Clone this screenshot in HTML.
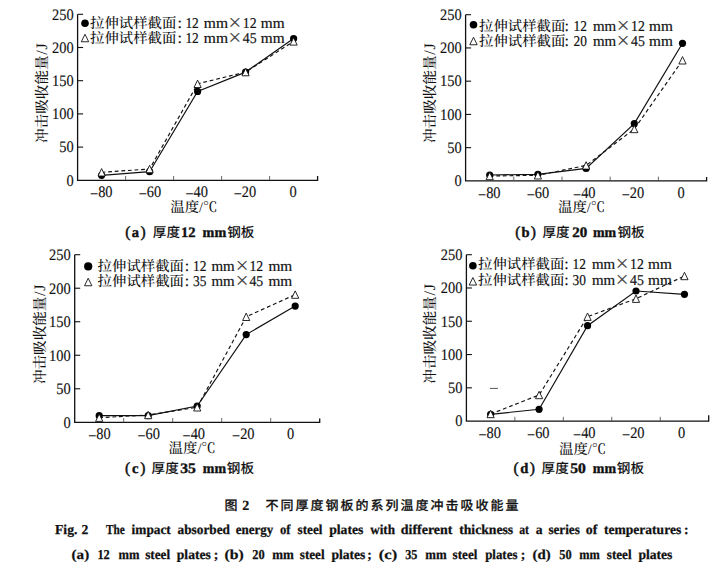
<!DOCTYPE html>
<html><head><meta charset="utf-8"><title>Fig.2</title><style>
html,body{margin:0;padding:0;background:#fff;}
svg{display:block;}
.ax{fill:none;stroke:#111;stroke-width:1.3;}
.tk{fill:none;stroke:#111;stroke-width:1.1;}
.tk2{fill:none;stroke:#444;stroke-width:0.8;}
.ls{fill:none;stroke:#111;stroke-width:1.2;}
.ld{fill:none;stroke:#111;stroke-width:1.15;stroke-dasharray:3.8 2.8;}
.sd{fill:none;stroke:#555;stroke-width:1;}
.mc{fill:#000;stroke:none;}
.mt{fill:#fff;stroke:#111;stroke-width:0.9;}
text{fill:#111;text-rendering:geometricPrecision;}
.n{font-family:"Liberation Serif",serif;font-size:16px;stroke:#111;stroke-width:0.15px;}
.n2{font-family:"Liberation Serif",serif;font-size:15px;stroke:#111;stroke-width:0.2px;}
.x{font-family:"Liberation Serif",serif;font-size:23px;fill:#444;}
.cj{font-family:"Liberation Serif","Noto Serif CJK SC",serif;font-size:14.4px;font-weight:500;}
.yl{font-size:14.6px;}
.yj{font-size:16px;letter-spacing:0.8px;}
.pp{font-weight:normal;font-size:15.5px;stroke-width:0.5px;}
.cb{font-family:"Liberation Serif",serif;font-size:14.5px;font-weight:bold;stroke:#111;stroke-width:0.4px;}
.cc{font-family:"Liberation Sans","Noto Sans CJK SC",sans-serif;font-size:13.6px;font-weight:500;}
.c1{font-family:"Liberation Sans","Noto Sans CJK SC",sans-serif;font-size:13px;font-weight:500;letter-spacing:2px;stroke:#111;stroke-width:0.2px;}
.c2b{font-family:"Liberation Serif",serif;font-size:14px;font-weight:bold;stroke:#111;stroke-width:0.2px;}
.c2{font-family:"Liberation Serif",serif;font-size:13.6px;font-weight:bold;stroke:#111;stroke-width:0.25px;}
</style></head>
<body><svg width="720" height="570" viewBox="0 0 720 570">
<rect width="720" height="570" fill="#fff"/>
<g><path d="M77.6,14.3 V180.3 H317.6 V175.9" class="ax"/>
<path d="M77.6,147.1 h5.5" class="tk"/>
<path d="M77.6,113.9 h5.5" class="tk"/>
<path d="M77.6,80.7 h5.5" class="tk"/>
<path d="M77.6,47.5 h5.5" class="tk"/>
<path d="M77.6,14.3 h5.5" class="tk"/>
<path d="M125.6,180.3 v-4.3" class="tk2"/>
<path d="M173.6,180.3 v-4.3" class="tk2"/>
<path d="M221.6,180.3 v-4.3" class="tk2"/>
<path d="M269.6,180.3 v-4.3" class="tk2"/>
<text x="73.6" y="185.6" class="n" text-anchor="end" textLength="7.2" lengthAdjust="spacingAndGlyphs">0</text>
<text x="73.6" y="152.4" class="n" text-anchor="end" textLength="14.4" lengthAdjust="spacingAndGlyphs">50</text>
<text x="73.6" y="119.2" class="n" text-anchor="end" textLength="21.6" lengthAdjust="spacingAndGlyphs">100</text>
<text x="73.6" y="86" class="n" text-anchor="end" textLength="21.6" lengthAdjust="spacingAndGlyphs">150</text>
<text x="73.6" y="52.8" class="n" text-anchor="end" textLength="21.6" lengthAdjust="spacingAndGlyphs">200</text>
<text x="73.6" y="19.6" class="n" text-anchor="end" textLength="21.6" lengthAdjust="spacingAndGlyphs">250</text>
<text x="101.3" y="197.3" class="n" text-anchor="middle" textLength="22.52" lengthAdjust="spacingAndGlyphs"><tspan dy="1.7">−</tspan><tspan dy="-1.7">80</tspan></text>
<text x="150" y="197.3" class="n" text-anchor="middle" textLength="22.52" lengthAdjust="spacingAndGlyphs"><tspan dy="1.7">−</tspan><tspan dy="-1.7">60</tspan></text>
<text x="196.7" y="197.3" class="n" text-anchor="middle" textLength="22.52" lengthAdjust="spacingAndGlyphs"><tspan dy="1.7">−</tspan><tspan dy="-1.7">40</tspan></text>
<text x="245" y="197.3" class="n" text-anchor="middle" textLength="22.52" lengthAdjust="spacingAndGlyphs"><tspan dy="1.7">−</tspan><tspan dy="-1.7">20</tspan></text>
<text x="293" y="197.3" class="n" text-anchor="middle" textLength="7.2" lengthAdjust="spacingAndGlyphs">0</text>
<polyline points="101.6,175.3 149.6,171.7 197.6,91.4 245.6,72.1 293.6,38.5" class="ls"/>
<polyline points="101.6,172.3 149.6,169 197.6,83.8 245.6,72.1 293.6,41.4" class="ld"/>
<circle cx="101.6" cy="175.3" r="3.6" class="mc"/>
<circle cx="149.6" cy="171.7" r="3.6" class="mc"/>
<circle cx="197.6" cy="91.4" r="3.6" class="mc"/>
<circle cx="245.6" cy="72.1" r="3.6" class="mc"/>
<circle cx="293.6" cy="38.5" r="3.6" class="mc"/>
<path d="M101.6,168.6 L105.2,176 L98,176 Z" class="mt"/>
<path d="M149.6,165.3 L153.2,172.7 L146,172.7 Z" class="mt"/>
<path d="M197.6,80.1 L201.2,87.5 L194,87.5 Z" class="mt"/>
<path d="M245.6,68.4 L249.2,75.8 L242,75.8 Z" class="mt"/>
<path d="M293.6,37.7 L297.2,45.1 L290,45.1 Z" class="mt"/>
<circle cx="85" cy="23.2" r="3.8" class="mc"/>
<path d="M85,34.25 L88.7,41.75 L81.3,41.75 Z" class="mt"/>
<text x="177.5" y="27.75" class="n">:</text>
<text x="228.2" y="29.65" class="x" textLength="13.2" lengthAdjust="spacingAndGlyphs">×</text>
<text x="177.5" y="43.25" class="n">:</text>
<text x="228.2" y="45.15" class="x" textLength="13.2" lengthAdjust="spacingAndGlyphs">×</text>
<text transform="translate(46.5,143) rotate(-90)" class="cj yl">冲击吸收能量<tspan dx="0.6" class="yj">/J</tspan></text>
<text x="170.25" y="211.6" class="cj">温度/℃</text></g>
<g><path d="M465.6,14.7 V180.9 H706.6 V177" class="ax"/>
<path d="M465.6,147.66 h5.5" class="tk"/>
<path d="M465.6,114.42 h5.5" class="tk"/>
<path d="M465.6,81.18 h5.5" class="tk"/>
<path d="M465.6,47.94 h5.5" class="tk"/>
<path d="M465.6,14.7 h5.5" class="tk"/>
<path d="M513.8,180.9 v-4.3" class="tk2"/>
<path d="M562,180.9 v-4.3" class="tk2"/>
<path d="M610.2,180.9 v-4.3" class="tk2"/>
<path d="M658.4,180.9 v-4.3" class="tk2"/>
<text x="461.6" y="186.2" class="n" text-anchor="end" textLength="7.2" lengthAdjust="spacingAndGlyphs">0</text>
<text x="461.6" y="152.96" class="n" text-anchor="end" textLength="14.4" lengthAdjust="spacingAndGlyphs">50</text>
<text x="461.6" y="119.72" class="n" text-anchor="end" textLength="21.6" lengthAdjust="spacingAndGlyphs">100</text>
<text x="461.6" y="86.48" class="n" text-anchor="end" textLength="21.6" lengthAdjust="spacingAndGlyphs">150</text>
<text x="461.6" y="53.24" class="n" text-anchor="end" textLength="21.6" lengthAdjust="spacingAndGlyphs">200</text>
<text x="461.6" y="20" class="n" text-anchor="end" textLength="21.6" lengthAdjust="spacingAndGlyphs">250</text>
<text x="489.3" y="197.9" class="n" text-anchor="middle" textLength="22.52" lengthAdjust="spacingAndGlyphs"><tspan dy="1.7">−</tspan><tspan dy="-1.7">80</tspan></text>
<text x="538" y="197.9" class="n" text-anchor="middle" textLength="22.52" lengthAdjust="spacingAndGlyphs"><tspan dy="1.7">−</tspan><tspan dy="-1.7">60</tspan></text>
<text x="584.3" y="197.9" class="n" text-anchor="middle" textLength="22.52" lengthAdjust="spacingAndGlyphs"><tspan dy="1.7">−</tspan><tspan dy="-1.7">40</tspan></text>
<text x="633" y="197.9" class="n" text-anchor="middle" textLength="22.52" lengthAdjust="spacingAndGlyphs"><tspan dy="1.7">−</tspan><tspan dy="-1.7">20</tspan></text>
<text x="681" y="197.9" class="n" text-anchor="middle" textLength="7.2" lengthAdjust="spacingAndGlyphs">0</text>
<polyline points="489.7,175 537.9,174.3 586.1,168.4 634.3,123.6 682.5,43.3" class="ls"/>
<polyline points="489.7,176 537.9,175.3 586.1,165.4 634.3,129 682.5,60.3" class="ld"/>
<circle cx="489.7" cy="175" r="3.6" class="mc"/>
<circle cx="537.9" cy="174.3" r="3.6" class="mc"/>
<circle cx="586.1" cy="168.4" r="3.6" class="mc"/>
<circle cx="634.3" cy="123.6" r="3.6" class="mc"/>
<circle cx="682.5" cy="43.3" r="3.6" class="mc"/>
<path d="M489.7,172.3 L493.3,179.7 L486.1,179.7 Z" class="mt"/>
<path d="M537.9,171.6 L541.5,179 L534.3,179 Z" class="mt"/>
<path d="M586.1,161.7 L589.7,169.1 L582.5,169.1 Z" class="mt"/>
<path d="M634.3,125.3 L637.9,132.7 L630.7,132.7 Z" class="mt"/>
<path d="M682.5,56.6 L686.1,64 L678.9,64 Z" class="mt"/>
<circle cx="473.5" cy="24.7" r="3.8" class="mc"/>
<path d="M473.5,37.25 L477.2,44.75 L469.8,44.75 Z" class="mt"/>
<text x="564.5" y="30.7" class="n">:</text>
<text x="616.6" y="32.6" class="x" textLength="13.2" lengthAdjust="spacingAndGlyphs">×</text>
<text x="564.5" y="46.2" class="n">:</text>
<text x="616.6" y="48.1" class="x" textLength="13.2" lengthAdjust="spacingAndGlyphs">×</text>
<text transform="translate(434.5,143) rotate(-90)" class="cj yl">冲击吸收能量<tspan dx="0.6" class="yj">/J</tspan></text>
<text x="558" y="212.3" class="cj">温度/℃</text></g>
<g><path d="M74.7,254.7 V422.3 H319.7 V418.4" class="ax"/>
<path d="M74.7,388.78 h5.5" class="tk"/>
<path d="M74.7,355.26 h5.5" class="tk"/>
<path d="M74.7,321.74 h5.5" class="tk"/>
<path d="M74.7,288.22 h5.5" class="tk"/>
<path d="M74.7,254.7 h5.5" class="tk"/>
<path d="M123.7,422.3 v-4.3" class="tk2"/>
<path d="M172.7,422.3 v-4.3" class="tk2"/>
<path d="M221.7,422.3 v-4.3" class="tk2"/>
<path d="M270.7,422.3 v-4.3" class="tk2"/>
<text x="70.7" y="427.6" class="n" text-anchor="end" textLength="7.2" lengthAdjust="spacingAndGlyphs">0</text>
<text x="70.7" y="394.08" class="n" text-anchor="end" textLength="14.4" lengthAdjust="spacingAndGlyphs">50</text>
<text x="70.7" y="360.56" class="n" text-anchor="end" textLength="21.6" lengthAdjust="spacingAndGlyphs">100</text>
<text x="70.7" y="327.04" class="n" text-anchor="end" textLength="21.6" lengthAdjust="spacingAndGlyphs">150</text>
<text x="70.7" y="293.52" class="n" text-anchor="end" textLength="21.6" lengthAdjust="spacingAndGlyphs">200</text>
<text x="70.7" y="260" class="n" text-anchor="end" textLength="21.6" lengthAdjust="spacingAndGlyphs">250</text>
<text x="99.5" y="439.3" class="n" text-anchor="middle" textLength="22.52" lengthAdjust="spacingAndGlyphs"><tspan dy="1.7">−</tspan><tspan dy="-1.7">80</tspan></text>
<text x="148.7" y="439.3" class="n" text-anchor="middle" textLength="22.52" lengthAdjust="spacingAndGlyphs"><tspan dy="1.7">−</tspan><tspan dy="-1.7">60</tspan></text>
<text x="193.8" y="439.3" class="n" text-anchor="middle" textLength="22.52" lengthAdjust="spacingAndGlyphs"><tspan dy="1.7">−</tspan><tspan dy="-1.7">40</tspan></text>
<text x="243.3" y="439.3" class="n" text-anchor="middle" textLength="22.52" lengthAdjust="spacingAndGlyphs"><tspan dy="1.7">−</tspan><tspan dy="-1.7">20</tspan></text>
<text x="290.7" y="439.3" class="n" text-anchor="middle" textLength="7.2" lengthAdjust="spacingAndGlyphs">0</text>
<polyline points="99.2,415.7 148.2,415.7 197.2,406 246.2,334.6 295.2,306.1" class="ls"/>
<polyline points="99.2,417.7 148.2,415 197.2,407.3 246.2,316.8 295.2,294.6" class="ld"/>
<circle cx="99.2" cy="415.7" r="3.6" class="mc"/>
<circle cx="148.2" cy="415.7" r="3.6" class="mc"/>
<circle cx="197.2" cy="406" r="3.6" class="mc"/>
<circle cx="246.2" cy="334.6" r="3.6" class="mc"/>
<circle cx="295.2" cy="306.1" r="3.6" class="mc"/>
<path d="M99.2,414 L102.8,421.4 L95.6,421.4 Z" class="mt"/>
<path d="M148.2,411.3 L151.8,418.7 L144.6,418.7 Z" class="mt"/>
<path d="M197.2,403.6 L200.8,411 L193.6,411 Z" class="mt"/>
<path d="M246.2,313.1 L249.8,320.5 L242.6,320.5 Z" class="mt"/>
<path d="M295.2,290.9 L298.8,298.3 L291.6,298.3 Z" class="mt"/>
<circle cx="88.2" cy="266.4" r="4.1" class="mc"/>
<path d="M88.2,278.25 L91.9,285.75 L84.5,285.75 Z" class="mt"/>
<text x="184.7" y="270.8" class="n">:</text>
<text x="235.4" y="272.7" class="x" textLength="13.2" lengthAdjust="spacingAndGlyphs">×</text>
<text x="184.7" y="285.8" class="n">:</text>
<text x="235.4" y="287.7" class="x" textLength="13.2" lengthAdjust="spacingAndGlyphs">×</text>
<text transform="translate(44.7,384.1) rotate(-90)" class="cj yl">冲击吸收能量<tspan dx="0.6" class="yj">/J</tspan></text>
<text x="168.6" y="453.2" class="cj">温度/℃</text></g>
<g><path d="M466.4,254.7 V421.1 H708.7 V415.3" class="ax"/>
<path d="M466.4,387.82 h5.5" class="tk"/>
<path d="M466.4,354.54 h5.5" class="tk"/>
<path d="M466.4,321.26 h5.5" class="tk"/>
<path d="M466.4,287.98 h5.5" class="tk"/>
<path d="M466.4,254.7 h5.5" class="tk"/>
<path d="M514.86,421.1 v-4.3" class="tk2"/>
<path d="M563.32,421.1 v-4.3" class="tk2"/>
<path d="M611.78,421.1 v-4.3" class="tk2"/>
<path d="M660.24,421.1 v-4.3" class="tk2"/>
<text x="462.4" y="426.4" class="n" text-anchor="end" textLength="7.2" lengthAdjust="spacingAndGlyphs">0</text>
<text x="462.4" y="393.12" class="n" text-anchor="end" textLength="14.4" lengthAdjust="spacingAndGlyphs">50</text>
<text x="462.4" y="359.84" class="n" text-anchor="end" textLength="21.6" lengthAdjust="spacingAndGlyphs">100</text>
<text x="462.4" y="326.56" class="n" text-anchor="end" textLength="21.6" lengthAdjust="spacingAndGlyphs">150</text>
<text x="462.4" y="293.28" class="n" text-anchor="end" textLength="21.6" lengthAdjust="spacingAndGlyphs">200</text>
<text x="462.4" y="260" class="n" text-anchor="end" textLength="21.6" lengthAdjust="spacingAndGlyphs">250</text>
<text x="489.7" y="438.1" class="n" text-anchor="middle" textLength="22.52" lengthAdjust="spacingAndGlyphs"><tspan dy="1.7">−</tspan><tspan dy="-1.7">80</tspan></text>
<text x="538.3" y="438.1" class="n" text-anchor="middle" textLength="22.52" lengthAdjust="spacingAndGlyphs"><tspan dy="1.7">−</tspan><tspan dy="-1.7">60</tspan></text>
<text x="584.3" y="438.1" class="n" text-anchor="middle" textLength="22.52" lengthAdjust="spacingAndGlyphs"><tspan dy="1.7">−</tspan><tspan dy="-1.7">40</tspan></text>
<text x="633.3" y="438.1" class="n" text-anchor="middle" textLength="22.52" lengthAdjust="spacingAndGlyphs"><tspan dy="1.7">−</tspan><tspan dy="-1.7">20</tspan></text>
<text x="681.7" y="438.1" class="n" text-anchor="middle" textLength="7.2" lengthAdjust="spacingAndGlyphs">0</text>
<polyline points="490.63,414.3 539.09,409.3 587.55,325.7 636.01,291 684.47,294.3" class="ls"/>
<polyline points="490.63,414 539.09,395 587.55,316.7 636.01,298.7 684.47,276" class="ld"/>
<circle cx="490.63" cy="414.3" r="3.6" class="mc"/>
<circle cx="539.09" cy="409.3" r="3.6" class="mc"/>
<circle cx="587.55" cy="325.7" r="3.6" class="mc"/>
<circle cx="636.01" cy="291" r="3.6" class="mc"/>
<circle cx="684.47" cy="294.3" r="3.6" class="mc"/>
<path d="M490.63,410.3 L494.23,417.7 L487.03,417.7 Z" class="mt"/>
<path d="M539.09,391.3 L542.69,398.7 L535.49,398.7 Z" class="mt"/>
<path d="M587.55,313 L591.15,320.4 L583.95,320.4 Z" class="mt"/>
<path d="M636.01,295 L639.61,302.4 L632.41,302.4 Z" class="mt"/>
<path d="M684.47,272.3 L688.07,279.7 L680.87,279.7 Z" class="mt"/>
<circle cx="472.9" cy="265.7" r="3.8" class="mc"/>
<path d="M472.9,277.55 L476.6,285.05 L469.2,285.05 Z" class="mt"/>
<text x="564.2" y="269.2" class="n">:</text>
<text x="615.6" y="271.1" class="x" textLength="13.2" lengthAdjust="spacingAndGlyphs">×</text>
<text x="564.2" y="284.7" class="n">:</text>
<text x="615.6" y="286.6" class="x" textLength="13.2" lengthAdjust="spacingAndGlyphs">×</text>
<text transform="translate(434.7,383.7) rotate(-90)" class="cj yl">冲击吸收能量<tspan dx="0.6" class="yj">/J</tspan></text>
<text x="559" y="454.3" class="cj">温度/℃</text>
<path d="M490,388.4 H497.9" class="sd"/></g>
<text x="90" y="27.75" class="cj">拉伸试样截面</text>
<text x="185.4" y="27.75" class="n2" textLength="13.4" lengthAdjust="spacingAndGlyphs">12</text>
<text x="203.8" y="27.75" class="n2" textLength="24.2" lengthAdjust="spacingAndGlyphs">mm</text>
<text x="242.8" y="27.75" class="n2" textLength="13.8" lengthAdjust="spacingAndGlyphs">12</text>
<text x="260.8" y="27.75" class="n2" textLength="23.8" lengthAdjust="spacingAndGlyphs">mm</text>
<text x="90" y="43.25" class="cj">拉伸试样截面</text>
<text x="185.4" y="43.25" class="n2" textLength="13.4" lengthAdjust="spacingAndGlyphs">12</text>
<text x="203.8" y="43.25" class="n2" textLength="24.2" lengthAdjust="spacingAndGlyphs">mm</text>
<text x="242.8" y="43.25" class="n2" textLength="13.8" lengthAdjust="spacingAndGlyphs">45</text>
<text x="260.8" y="43.25" class="n2" textLength="23.8" lengthAdjust="spacingAndGlyphs">mm</text>
<text x="125.2" y="237.2" class="cb" textLength="20.4" lengthAdjust="spacing"><tspan class="pp">(</tspan>a<tspan class="pp">)</tspan></text>
<text x="152.8" y="237" class="cc">厚度</text>
<text x="181" y="237.2" class="cb" textLength="14.6" lengthAdjust="spacingAndGlyphs">12</text>
<text x="202.6" y="237.2" class="cb" textLength="23.6" lengthAdjust="spacingAndGlyphs">mm</text>
<text x="227.2" y="237" class="cc">钢板</text>
<text x="479" y="30.7" class="cj">拉伸试样截面</text>
<text x="573.6" y="30.7" class="n2" textLength="13.4" lengthAdjust="spacingAndGlyphs">12</text>
<text x="593" y="30.7" class="n2" textLength="23.2" lengthAdjust="spacingAndGlyphs">mm</text>
<text x="631" y="30.7" class="n2" textLength="13.8" lengthAdjust="spacingAndGlyphs">12</text>
<text x="649" y="30.7" class="n2" textLength="23.8" lengthAdjust="spacingAndGlyphs">mm</text>
<text x="479" y="46.2" class="cj">拉伸试样截面</text>
<text x="573.6" y="46.2" class="n2" textLength="13.4" lengthAdjust="spacingAndGlyphs">20</text>
<text x="593" y="46.2" class="n2" textLength="23.2" lengthAdjust="spacingAndGlyphs">mm</text>
<text x="631" y="46.2" class="n2" textLength="13.8" lengthAdjust="spacingAndGlyphs">45</text>
<text x="649" y="46.2" class="n2" textLength="23.8" lengthAdjust="spacingAndGlyphs">mm</text>
<text x="515.2" y="236.9" class="cb" textLength="20.6" lengthAdjust="spacing"><tspan class="pp">(</tspan>b<tspan class="pp">)</tspan></text>
<text x="542.4" y="236.7" class="cc">厚度</text>
<text x="572.2" y="236.9" class="cb" textLength="15" lengthAdjust="spacingAndGlyphs">20</text>
<text x="593" y="236.9" class="cb" textLength="23.2" lengthAdjust="spacingAndGlyphs">mm</text>
<text x="617.4" y="236.7" class="cc">钢板</text>
<text x="97.6" y="270.8" class="cj">拉伸试样截面</text>
<text x="193" y="270.8" class="n2" textLength="13.4" lengthAdjust="spacingAndGlyphs">12</text>
<text x="211.4" y="270.8" class="n2" textLength="23.2" lengthAdjust="spacingAndGlyphs">mm</text>
<text x="249.4" y="270.8" class="n2" textLength="13.8" lengthAdjust="spacingAndGlyphs">12</text>
<text x="268.4" y="270.8" class="n2" textLength="23.8" lengthAdjust="spacingAndGlyphs">mm</text>
<text x="97.6" y="285.8" class="cj">拉伸试样截面</text>
<text x="193" y="285.8" class="n2" textLength="13.4" lengthAdjust="spacingAndGlyphs">35</text>
<text x="211.4" y="285.8" class="n2" textLength="23.2" lengthAdjust="spacingAndGlyphs">mm</text>
<text x="249.4" y="285.8" class="n2" textLength="13.8" lengthAdjust="spacingAndGlyphs">45</text>
<text x="268.4" y="285.8" class="n2" textLength="23.8" lengthAdjust="spacingAndGlyphs">mm</text>
<text x="125" y="473.2" class="cb" textLength="20.4" lengthAdjust="spacing"><tspan class="pp">(</tspan>c<tspan class="pp">)</tspan></text>
<text x="151.6" y="473" class="cc">厚度</text>
<text x="180.2" y="473.2" class="cb" textLength="15.6" lengthAdjust="spacingAndGlyphs">35</text>
<text x="202.8" y="473.2" class="cb" textLength="23.2" lengthAdjust="spacingAndGlyphs">mm</text>
<text x="226.8" y="473" class="cc">钢板</text>
<text x="478" y="269.2" class="cj">拉伸试样截面</text>
<text x="572.6" y="269.2" class="n2" textLength="13.4" lengthAdjust="spacingAndGlyphs">12</text>
<text x="592" y="269.2" class="n2" textLength="23.2" lengthAdjust="spacingAndGlyphs">mm</text>
<text x="630" y="269.2" class="n2" textLength="13.8" lengthAdjust="spacingAndGlyphs">12</text>
<text x="648" y="269.2" class="n2" textLength="23.8" lengthAdjust="spacingAndGlyphs">mm</text>
<text x="478" y="284.7" class="cj">拉伸试样截面</text>
<text x="572.6" y="284.7" class="n2" textLength="13.4" lengthAdjust="spacingAndGlyphs">30</text>
<text x="592" y="284.7" class="n2" textLength="23.2" lengthAdjust="spacingAndGlyphs">mm</text>
<text x="630" y="284.7" class="n2" textLength="13.8" lengthAdjust="spacingAndGlyphs">45</text>
<text x="648" y="284.7" class="n2" textLength="23.8" lengthAdjust="spacingAndGlyphs">mm</text>
<text x="513.6" y="472.8" class="cb" textLength="21.2" lengthAdjust="spacing"><tspan class="pp">(</tspan>d<tspan class="pp">)</tspan></text>
<text x="541.6" y="472.6" class="cc">厚度</text>
<text x="570.2" y="472.8" class="cb" textLength="15.6" lengthAdjust="spacingAndGlyphs">50</text>
<text x="592.8" y="472.8" class="cb" textLength="23.2" lengthAdjust="spacingAndGlyphs">mm</text>
<text x="616.8" y="472.6" class="cc">钢板</text>
<text x="55" y="534" class="c2" textLength="22.4" lengthAdjust="spacingAndGlyphs">Fig.</text>
<text x="81.6" y="534" class="c2">2</text>
<text x="106" y="534" class="c2" textLength="18.8" lengthAdjust="spacingAndGlyphs">The</text>
<text x="131.6" y="534" class="c2" textLength="39.2" lengthAdjust="spacingAndGlyphs">impact</text>
<text x="177.6" y="534" class="c2" textLength="52.4" lengthAdjust="spacingAndGlyphs">absorbed</text>
<text x="235.8" y="534" class="c2" textLength="37.4" lengthAdjust="spacingAndGlyphs">energy</text>
<text x="280" y="534" class="c2" textLength="10.6" lengthAdjust="spacingAndGlyphs">of</text>
<text x="297.6" y="534" class="c2" textLength="24.8" lengthAdjust="spacingAndGlyphs">steel</text>
<text x="329.2" y="534" class="c2" textLength="34.2" lengthAdjust="spacingAndGlyphs">plates</text>
<text x="370.2" y="534" class="c2" textLength="24.8" lengthAdjust="spacingAndGlyphs">with</text>
<text x="400.8" y="534" class="c2" textLength="51.6" lengthAdjust="spacingAndGlyphs">different</text>
<text x="459.2" y="534" class="c2" textLength="54" lengthAdjust="spacingAndGlyphs">thickness</text>
<text x="519.2" y="534" class="c2" textLength="9.8" lengthAdjust="spacingAndGlyphs">at</text>
<text x="535.8" y="534" class="c2">a</text>
<text x="548.4" y="534" class="c2" textLength="31.4" lengthAdjust="spacingAndGlyphs">series</text>
<text x="585.8" y="534" class="c2" textLength="11.6" lengthAdjust="spacingAndGlyphs">of</text>
<text x="604" y="534" class="c2" textLength="77.2" lengthAdjust="spacingAndGlyphs">temperatures</text>
<text x="684" y="534" class="c2">:</text>
<text x="71.6" y="559" class="c2" textLength="17.6" lengthAdjust="spacingAndGlyphs">(a)</text>
<text x="97.4" y="559" class="c2" textLength="12.4" lengthAdjust="spacingAndGlyphs">12</text>
<text x="118.4" y="559" class="c2" textLength="21" lengthAdjust="spacingAndGlyphs">mm</text>
<text x="145.2" y="559" class="c2" textLength="25" lengthAdjust="spacingAndGlyphs">steel</text>
<text x="176.8" y="559" class="c2" textLength="34" lengthAdjust="spacingAndGlyphs">plates</text>
<text x="213.8" y="559" class="c2">;</text>
<text x="224.6" y="559" class="c2" textLength="19.2" lengthAdjust="spacingAndGlyphs">(b)</text>
<text x="252.2" y="559" class="c2" textLength="12.4" lengthAdjust="spacingAndGlyphs">20</text>
<text x="272.2" y="559" class="c2" textLength="21.6" lengthAdjust="spacingAndGlyphs">mm</text>
<text x="299.8" y="559" class="c2" textLength="24.8" lengthAdjust="spacingAndGlyphs">steel</text>
<text x="331.4" y="559" class="c2" textLength="34" lengthAdjust="spacingAndGlyphs">plates</text>
<text x="367.2" y="559" class="c2">;</text>
<text x="378.8" y="559" class="c2" textLength="18.4" lengthAdjust="spacingAndGlyphs">(c)</text>
<text x="405.2" y="559" class="c2" textLength="12.2" lengthAdjust="spacingAndGlyphs">35</text>
<text x="425.2" y="559" class="c2" textLength="21.4" lengthAdjust="spacingAndGlyphs">mm</text>
<text x="452.6" y="559" class="c2" textLength="24.8" lengthAdjust="spacingAndGlyphs">steel</text>
<text x="485.2" y="559" class="c2" textLength="32.2" lengthAdjust="spacingAndGlyphs">plates</text>
<text x="520.8" y="559" class="c2">;</text>
<text x="532.6" y="559" class="c2" textLength="18.2" lengthAdjust="spacingAndGlyphs">(d)</text>
<text x="559.2" y="559" class="c2" textLength="12.4" lengthAdjust="spacingAndGlyphs">50</text>
<text x="579.2" y="559" class="c2" textLength="20.6" lengthAdjust="spacingAndGlyphs">mm</text>
<text x="606.8" y="559" class="c2" textLength="24.8" lengthAdjust="spacingAndGlyphs">steel</text>
<text x="638.4" y="559" class="c2" textLength="34" lengthAdjust="spacingAndGlyphs">plates</text>
<text x="224.5" y="509.5" class="c1">图</text><text x="242.3" y="509.5" class="c2b">2</text><text x="265.5" y="509.5" class="c1">不同厚度钢板的系列温度冲击吸收能量</text>
</svg></body></html>
